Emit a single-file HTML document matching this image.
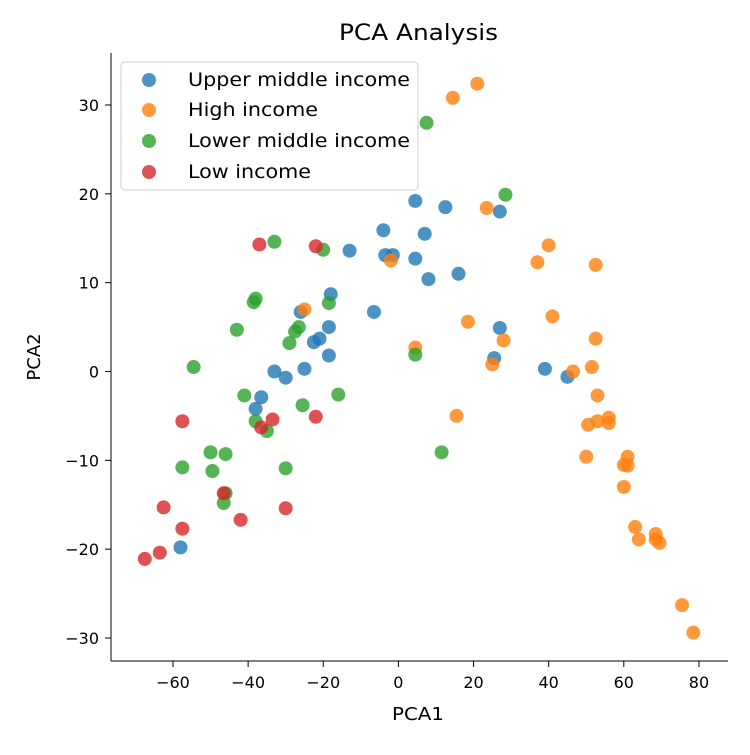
<!DOCTYPE html>
<html><head><meta charset="utf-8"><style>
body{margin:0;background:#fff}
text{font-family:"DejaVu Sans","Liberation Sans",sans-serif;fill:#000}
</style></head><body>
<svg id="chart" width="750" height="750" xmlns="http://www.w3.org/2000/svg">
<text x="339" y="40" font-size="22" textLength="159" lengthAdjust="spacingAndGlyphs">PCA Analysis</text>
<g id="plot"></g>
<line x1="111" y1="53" x2="111" y2="661" stroke="#000" stroke-width="1"/>
<line x1="111" y1="661" x2="728" y2="661" stroke="#000" stroke-width="1"/>
<g id="ticks"></g>
<text x="392" y="720" font-size="18" textLength="52" lengthAdjust="spacingAndGlyphs">PCA1</text>
<text x="40" y="357" font-size="18" text-anchor="middle" transform="rotate(-90 40 357)">PCA2</text>
<g>
<rect x="121" y="62" width="297" height="128" rx="4" fill="#fff" fill-opacity="0.8" stroke="#ccc"/>
<g><circle cx="149" cy="80" r="7" fill="#1f77b4" fill-opacity="0.8"/><text x="188" y="86" font-size="19" textLength="222" lengthAdjust="spacingAndGlyphs">Upper middle income</text></g>
<g><circle cx="149" cy="110" r="7" fill="#ff7f0e" fill-opacity="0.8"/><text x="188" y="116" font-size="19" textLength="130" lengthAdjust="spacingAndGlyphs">High income</text></g>
<g><circle cx="149" cy="141" r="7" fill="#2ca02c" fill-opacity="0.8"/><text x="188" y="147" font-size="19" textLength="222" lengthAdjust="spacingAndGlyphs">Lower middle income</text></g>
<g><circle cx="149" cy="172" r="7" fill="#d62728" fill-opacity="0.8"/><text x="188" y="178" font-size="19" textLength="123" lengthAdjust="spacingAndGlyphs">Low income</text></g>
</g>
</svg>
<script>
const upperMiddle=[[4.5,19.2],[12.5,18.5],[27,18],[-4,15.9],[7,15.5],[-13,13.6],[-3.5,13.1],[-1.5,13.1],[4.5,12.7],[16,11],[8,10.4],[-18,8.7],[-26,6.7],[-6.5,6.7],[27,4.9],[-18.5,5],[-21,3.7],[-22.5,3.3],[-18.5,1.8],[25.5,1.5],[39,0.3],[45,-0.6],[-25,0.3],[-33,0],[-30,-0.7],[-38,-4.2],[-36.5,-2.9],[-58,-19.8]];
const high=[[21,32.4],[14.5,30.8],[23.5,18.4],[40,14.2],[37,12.3],[52.5,12],[-2,12.5],[-25,7],[41,6.2],[18.5,5.6],[28,3.5],[52.5,3.7],[4.5,2.7],[25,0.8],[51.5,0.5],[46.5,0],[53,-2.7],[15.5,-5],[56,-5.2],[53,-5.6],[50.5,-6],[56,-5.8],[50,-9.6],[61,-9.6],[60,-10.5],[61,-10.6],[60,-13],[63,-17.5],[64,-18.9],[68.5,-18.3],[68.5,-18.9],[69.5,-19.3],[75.5,-26.3],[78.5,-29.4]];
const lowerMiddle=[[7.5,28],[28.5,19.9],[-33,14.6],[-20,13.7],[-38,8.2],[-38.5,7.8],[-18.5,7.7],[-43,4.7],[-26.5,5],[-27.5,4.5],[-29,3.2],[-54.5,0.5],[4.5,1.9],[-41,-2.7],[-25.5,-3.8],[-16,-2.6],[-38,-5.6],[-35,-6.7],[11.5,-9.1],[-50,-9.1],[-46,-9.3],[-57.5,-10.8],[-49.5,-11.2],[-30,-10.9],[-46,-13.7],[-46.5,-14.8]];
const low=[[-37,14.3],[-22,14.1],[-57.5,-5.6],[-33.5,-5.4],[-22,-5.1],[-36.5,-6.3],[-46.5,-13.7],[-30,-15.4],[-42,-16.7],[-62.5,-15.3],[-57.5,-17.7],[-63.5,-20.4],[-67.5,-21.1]];
const xTicks=[-60,-40,-20,0,20,40,60,80];
const yTicks=[-30,-20,-10,0,10,20,30];
const NS="http://www.w3.org/2000/svg";
function sx(v){return 398.4+v*3.757;}
function sy(v){return 371.5-v*8.883;}
const plot=document.getElementById('plot');
const series=[[upperMiddle,'#1f77b4','upper-middle'],[high,'#ff7f0e','high'],[lowerMiddle,'#2ca02c','lower-middle'],[low,'#d62728','low']];
series.forEach(([d,c,n])=>{d.forEach(p=>{
const e=document.createElementNS(NS,'circle');
e.setAttribute('cx',sx(p[0]));e.setAttribute('cy',sy(p[1]));e.setAttribute('r',7);
e.setAttribute('fill',c);e.setAttribute('fill-opacity',0.8);


plot.appendChild(e);});});
const tg=document.getElementById('ticks');
xTicks.forEach(t=>{const x=sx(t);
const l=document.createElementNS(NS,'line');l.setAttribute('x1',x);l.setAttribute('x2',x);l.setAttribute('y1',661);l.setAttribute('y2',667);l.setAttribute('stroke','#000');


tg.appendChild(l);
const s=document.createElementNS(NS,'text');s.setAttribute('x',x);s.setAttribute('y',688);s.setAttribute('font-size','16');s.setAttribute('text-anchor','middle');s.textContent=(t<0?'\u2212'+(-t):t);


tg.appendChild(s);});
yTicks.forEach(t=>{const y=sy(t);
const l=document.createElementNS(NS,'line');l.setAttribute('x1',105);l.setAttribute('x2',111);l.setAttribute('y1',y);l.setAttribute('y2',y);l.setAttribute('stroke','#000');


tg.appendChild(l);
const s=document.createElementNS(NS,'text');s.setAttribute('x',99);s.setAttribute('y',y+6);s.setAttribute('font-size','16');s.setAttribute('text-anchor','end');s.textContent=(t<0?'\u2212'+(-t):t);


tg.appendChild(s);});
</script>
</body></html>
